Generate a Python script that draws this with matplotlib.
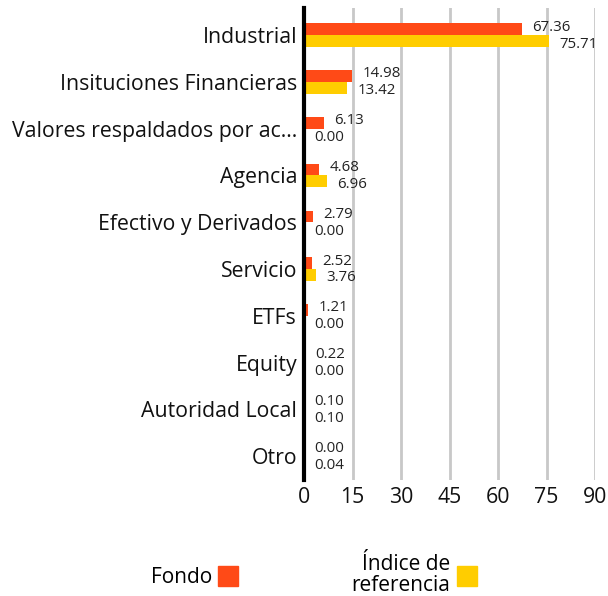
# Horizontal bar chart: sector allocation, Fondo vs Índice de referencia
import numpy as np
import matplotlib.pyplot as plt
from matplotlib.lines import Line2D

# Data
categories = ["Industrial", "Insituciones Financieras", "Valores respaldados por ac...",
              "Agencia", "Efectivo y Derivados", "Servicio", "ETFs", "Equity",
              "Autoridad Local", "Otro"]
fondo = [67.36, 14.98, 6.13, 4.68, 2.79, 2.52, 1.21, 0.22, 0.10, 0.00]
indice = [75.71, 13.42, 0.00, 6.96, 0.00, 3.76, 0.00, 0.00, 0.10, 0.04]
xticks = [0, 15, 30, 45, 60, 75, 90]
series_names = ["Fondo", "Índice de\nreferencia"]
# ============================================

RED = "#ff4a17"
YELLOW = "#ffcd00"
GRID = "#c8c8c8"

plt.rcParams['font.family'] = ['Open Sans', 'DejaVu Sans']

fig = plt.figure(figsize=(6.08, 5.96), dpi=100)
ax = fig.add_axes([304 / 608, 1 - 480 / 596, (595 - 304) / 608, (480 - 8) / 596])

y = np.arange(len(categories))
h = 0.25
ax.barh(y - h / 2, fondo, height=h, color=RED, zorder=3)
ax.barh(y + h / 2, indice, height=h, color=YELLOW, zorder=3)

# Value labels
for i in range(len(categories)):
    ax.annotate(f"{fondo[i]:.2f}", (fondo[i], y[i] - 0.17), xytext=(7.5, 0),
                textcoords="offset points", va="center", ha="left", fontsize=10.8,
                color="#222222")
    ax.annotate(f"{indice[i]:.2f}", (indice[i], y[i] + 0.19), xytext=(7.5, 0),
                textcoords="offset points", va="center", ha="left", fontsize=10.8,
                color="#222222")

ax.set_xlim(0, 90)
ax.set_ylim(9.51, -0.58)
ax.set_xticks(xticks)
ax.set_yticks(y)
ax.set_yticklabels(categories)
ax.tick_params(axis="both", length=0, labelsize=15.3, colors="#111111")
ax.tick_params(axis="x", pad=5)
ax.tick_params(axis="y", pad=5)

ax.grid(axis="x", color=GRID, linewidth=2, zorder=0)
for s in ["top", "right", "bottom"]:
    ax.spines[s].set_visible(False)
ax.spines["left"].set_linewidth(3)
ax.spines["left"].set_color("black")
ax.spines["left"].set_zorder(4)

# Legend at bottom, text left of marker
handles = [Line2D([], [], marker="s", linestyle="none", markersize=14, color=RED),
           Line2D([], [], marker="s", linestyle="none", markersize=14, color=YELLOW)]
leg = fig.legend(handles, series_names, loc="center", bbox_to_anchor=(315 / 608, 1 - 575 / 596),
                 ncol=2, frameon=False, markerfirst=False, fontsize=15,
                 handletextpad=0.2, columnspacing=5.3, handlelength=1.2)
for t in leg.get_texts():
    t.set_multialignment("right")
    t.set_linespacing(1.0)

fig.savefig("out.png", dpi=100)
